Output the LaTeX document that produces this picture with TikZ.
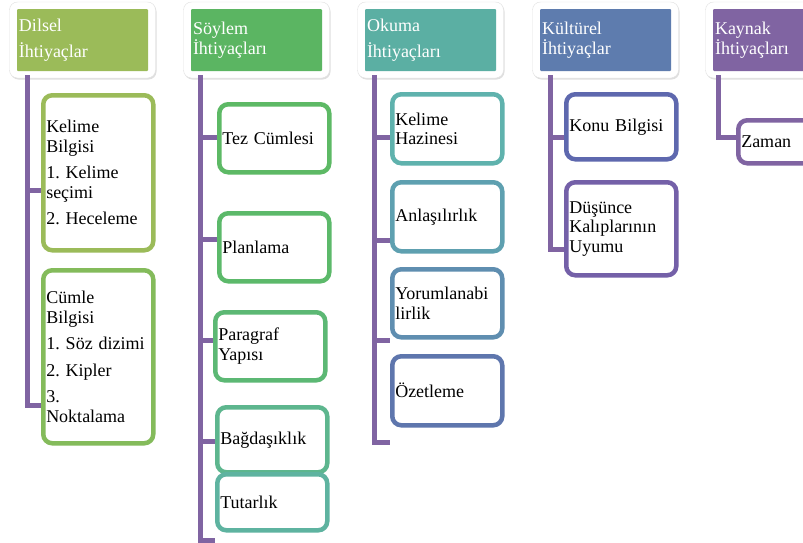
\documentclass[tikz,border=0pt]{standalone}
\usepackage{fontspec}
\setmainfont{Liberation Serif}
\usetikzlibrary{shadows}

\definecolor{linkc}{HTML}{8064A2}
\definecolor{dilselc}{HTML}{9BBB59}
\definecolor{soylemc}{HTML}{5BB562}
\definecolor{okumac}{HTML}{5BAFA3}
\definecolor{kulturc}{HTML}{5E7CAE}
\definecolor{kaynakc}{HTML}{8064A2}
\definecolor{kelimec}{HTML}{9BBB59}
\definecolor{cumlec}{HTML}{84BB5B}
\definecolor{tezc}{HTML}{5DB965}
\definecolor{planc}{HTML}{5CB96A}
\definecolor{paragc}{HTML}{5CB874}
\definecolor{bagc}{HTML}{5DB68E}
\definecolor{tutc}{HTML}{5EB3A0}
\definecolor{hazc}{HTML}{5FB2AD}
\definecolor{anlc}{HTML}{5EA0B0}
\definecolor{yorc}{HTML}{5F8EB0}
\definecolor{ozetc}{HTML}{5E76AD}
\definecolor{konuc}{HTML}{5E68AE}
\definecolor{dusc}{HTML}{7460A8}
\definecolor{zamanc}{HTML}{8064A2}

\newcommand\boxfont{\fontsize{18}{19.5}\selectfont\frenchspacing\hyphenpenalty=10000\relax}

\begin{document}
\begin{tikzpicture}[x=1pt, y=-1pt,
      every node/.append style={font=\boxfont},
      link/.style={draw=linkc, line width=5pt}]
    \tikzstyle{frame} = [fill=white, draw=black!12, rounded corners=8pt,
      minimum width=146pt, minimum height=76pt,
      drop shadow={opacity=0.25, shadow xshift=1pt, shadow yshift=-1.5pt}]
    \tikzstyle{head} = [text=white, align=left, text width=127pt,
      inner xsep=2pt, inner ysep=0pt, minimum height=62pt, rounded corners=1pt]
    \tikzstyle{leaf} = [fill=white, line width=4.5pt, rounded corners=9pt,
      align=left, text width=104pt, inner xsep=3pt, inner ysep=0pt,
      anchor=north west]
    \path[use as bounding box, fill=white] (0,0) rectangle (803,542);

    % header boxes
    \node [frame] (dilsel_frame) at (82.5,40) {};
    \node [head, fill=dilselc] (dilsel) at (dilsel_frame) {Dilsel\\[6.5pt]İhtiyaçlar};
    \node [frame] (soylem_frame) at (256.5,40) {};
    \node [head, fill=soylemc] (soylem) at (soylem_frame) {Söylem\\İhtiyaçları};
    \node [frame] (okuma_frame) at (430.5,40) {};
    \node [head, fill=okumac] (okuma) at (okuma_frame) {Okuma\\[6.5pt]İhtiyaçları};
    \node [frame] (kultur_frame) at (605.5,40) {};
    \node [head, fill=kulturc] (kultur) at (kultur_frame) {Kültürel\\İhtiyaçlar};
    \node [frame] (kaynak_frame) at (778.5,40) {};
    \node [head, fill=kaynakc] (kaynak) at (kaynak_frame) {Kaynak\\İhtiyaçları};

    % Dilsel
    \node [leaf, draw=kelimec, minimum height=155pt] (kelime) at (41,93)
      {Kelime\\Bilgisi\\[7pt]1. Kelime\\seçimi\\[7pt]2. Heceleme};
    \node [leaf, draw=cumlec, minimum height=173pt] (cumle) at (41,268)
      {Cümle\\Bilgisi\\[7pt]1. Söz dizimi\\[7pt]2. Kipler\\[7pt]3.\\Noktalama};
    \draw[link] ([xshift=10.5pt,yshift=-4pt]dilsel.south west) |- ([yshift=-17.5pt]kelime.west);
    \draw[link] ([xshift=10.5pt,yshift=-4pt]dilsel.south west) |- ([yshift=-48.5pt]cumle.west);

    % Söylem
    \node [leaf, draw=tezc, minimum height=68pt] (tez) at (217,102) {Tez Cümlesi};
    \node [leaf, draw=planc, minimum height=68pt] (plan) at (217,211) {Planlama};
    \node [leaf, draw=paragc, minimum height=68pt] (parag) at (213,310) {Paragraf\\Yapısı};
    \node [leaf, draw=bagc, minimum height=65pt] (bag) at (215,405) {Bağdaşıklık};
    \node [leaf, draw=tutc, minimum height=56pt] (tut) at (215,472) {Tutarlık};
    \draw[link] ([xshift=10pt,yshift=-4pt]soylem.south west) |- ([yshift=1pt]tez.west);
    \draw[link] ([xshift=10pt,yshift=-4pt]soylem.south west) |- ([yshift=8pt]plan.west);
    \draw[link] ([xshift=10pt,yshift=-4pt]soylem.south west) |- ([yshift=6pt]parag.west);
    \draw[link] ([xshift=10pt,yshift=-4pt]soylem.south west) |- ([yshift=-1.5pt]bag.west);
    \draw[link] ([xshift=10pt,yshift=-4pt]soylem.south west) |- ([yshift=-38pt]tut.west);

    % Okuma
    \node [leaf, draw=hazc, minimum height=69pt] (haz) at (390,92) {Kelime\\Hazinesi};
    \node [leaf, draw=anlc, minimum height=69pt] (anl) at (390,180) {Anlaşılırlık};
    \node [leaf, draw=yorc, minimum height=68pt] (yor) at (390,267) {Yorumlanabi\\lirlik};
    \node [leaf, draw=ozetc, minimum height=69pt] (ozet) at (390,354) {Özetleme};
    \draw[link] ([xshift=10pt,yshift=-4pt]okuma.south west) |- ([yshift=-8.5pt]haz.west);
    \draw[link] ([xshift=10pt,yshift=-4pt]okuma.south west) |- ([yshift=-23.5pt]anl.west);
    \draw[link] ([xshift=10pt,yshift=-4pt]okuma.south west) |- ([yshift=-37pt]yor.west);
    \draw[link] ([xshift=10pt,yshift=-4pt]okuma.south west) |- ([yshift=-51.5pt]ozet.west);

    % Kültürel
    \node [leaf, draw=konuc, minimum height=65pt] (konu) at (564,92) {Konu Bilgisi};
    \node [leaf, draw=dusc, minimum height=93pt] (dus) at (564,180) {Düşünce\\Kalıplarının\\Uyumu};
    \draw[link] ([xshift=11pt,yshift=-4pt]kultur.south west) |- ([yshift=-10.5pt]konu.west);
    \draw[link] ([xshift=11pt,yshift=-4pt]kultur.south west) |- ([yshift=-20.5pt]dus.west);

    % Kaynak
    \node [leaf, draw=zamanc, minimum height=43pt] (zaman) at (736,118) {Zaman};
    \draw[link] ([xshift=6pt,yshift=-4pt]kaynak.south west) |- ([yshift=4.5pt]zaman.west);
\end{tikzpicture}
\end{document}
